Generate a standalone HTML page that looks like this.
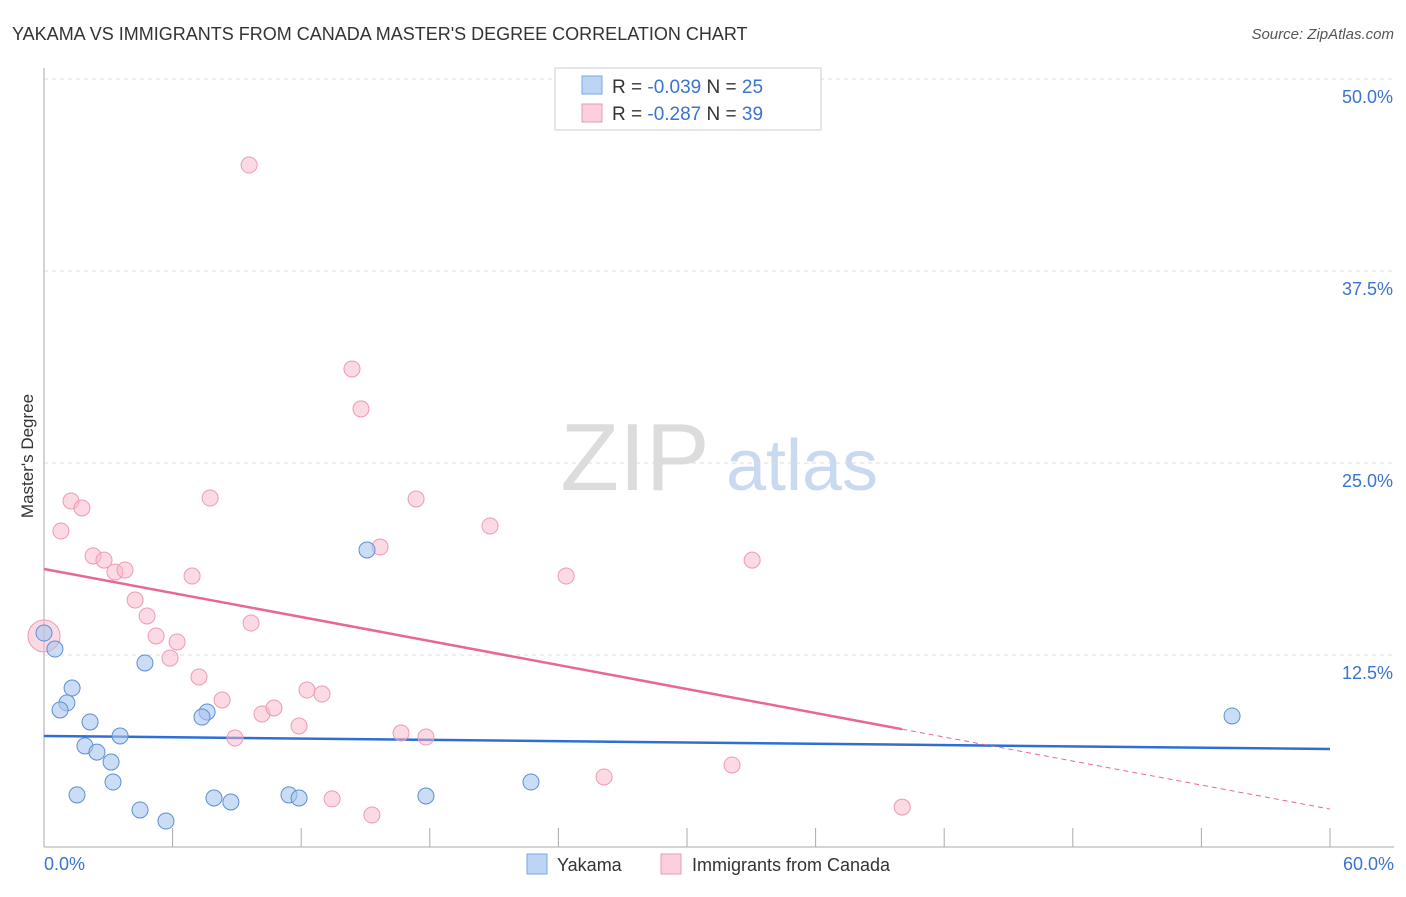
<!DOCTYPE html>
<html><head><meta charset="utf-8"><style>
body{margin:0;background:#fff;font-family:"Liberation Sans",sans-serif;}
svg text{font-family:"Liberation Sans",sans-serif;}
</style></head><body>
<svg id="chart" width="1406" height="892" viewBox="0 0 1406 892" xmlns="http://www.w3.org/2000/svg">
<text x="12" y="40" font-size="18" fill="#333">YAKAMA VS IMMIGRANTS FROM CANADA MASTER'S DEGREE CORRELATION CHART</text>
<text x="1394" y="39" font-size="15" fill="#555" text-anchor="end" font-style="italic">Source: ZipAtlas.com</text>
<g>
<text x="635" y="490" font-size="96" fill="#dcdcdc" font-family="Liberation Serif,serif" text-anchor="middle">ZIP</text>
<text x="802" y="490" font-size="72" fill="#c9daf0" text-anchor="middle">atlas</text>
</g>
<g id="grid"></g>
<g id="axes"></g>
<g id="lines"></g>
<g id="pts"></g>
<text transform="translate(33,456) rotate(-90)" font-size="17" fill="#333" text-anchor="middle">Master's Degree</text>
<g>
<rect x="555" y="68" width="266" height="62" fill="#fff" stroke="#ccc"/>
<rect x="582" y="76" width="20" height="18" fill="#bcd5f5" stroke="#7aa6e0"/>
<rect x="582" y="104" width="20" height="18" fill="#fbcfdc" stroke="#ee9ab5"/>
<text x="612" y="93" font-size="19" fill="#333">R = <tspan fill="#3a73d0">-0.039</tspan>   N = <tspan fill="#3a73d0">25</tspan></text>
<text x="612" y="120" font-size="19" fill="#333">R = <tspan fill="#3a73d0"> -0.287</tspan>   N = <tspan fill="#3a73d0">39</tspan></text>
</g>
<g>
<rect x="527" y="854" width="20" height="20" fill="#bcd5f5" stroke="#7aa6e0"/>
<text x="557" y="871" font-size="18" fill="#333">Yakama</text>
<rect x="661" y="854" width="20" height="20" fill="#fbcfdc" stroke="#ee9ab5"/>
<text x="692" y="871" font-size="18" fill="#333">Immigrants from Canada</text>
</g>
</svg>
<script>
const yTicks=[12.5,25,37.5,50];
const yTickLabels=["12.5%","25.0%","37.5%","50.0%"];
const xTickLabels=["0.0%","60.0%"];
const yakX=[0,0.51,1.31,1.07,0.75,2.15,3.55,1.91,2.47,3.13,3.22,1.54,4.48,5.69,4.71,7.61,7.37,7.93,8.72,11.43,11.90,15.07,17.82,22.72,55.43];
const yakY=[13.93,12.89,10.35,9.38,8.92,8.14,7.23,6.58,6.18,5.53,4.23,3.39,2.41,1.69,11.98,8.79,8.46,3.19,2.93,3.39,3.19,19.34,3.32,4.23,8.53];
const canX=[0,0.79,1.26,1.77,2.29,2.80,3.31,3.78,4.25,4.81,5.23,5.88,6.21,6.91,7.23,7.75,8.31,8.91,9.66,10.17,10.73,11.90,12.27,12.97,13.44,14.37,14.79,15.30,15.68,16.66,17.36,17.82,20.81,24.36,26.13,32.10,33.04,40.04,9.57];
const canY=[13.74,20.57,22.53,22.07,18.95,18.68,17.90,18.03,16.08,15.04,13.74,12.30,13.35,17.64,11.07,22.72,9.57,7.10,14.58,8.66,9.05,7.88,10.22,9.96,3.13,31.12,28.52,2.08,19.53,7.42,22.66,7.16,20.90,17.64,4.56,5.34,18.68,2.60,44.40];
const yakTrend=[7.23,6.38];
const canTrend=[18.10,2.47];
const canSolidEnd=40.04;
const X=v=>44+v/60*1286, Y=v=>847-v/12.5*192;
const NS="http://www.w3.org/2000/svg";
function mk(p,t,a){const e=document.createElementNS(NS,t);for(const k in a)e.setAttribute(k,a[k]);p.appendChild(e);return e;}
const grid=document.getElementById('grid'),axes=document.getElementById('axes'),lines=document.getElementById('lines'),pts=document.getElementById('pts');
yTicks.forEach((t,i)=>{
 const l=mk(grid,'line',{x1:44,x2:1394,y1:Y(t),y2:Y(t),stroke:'#ddd','stroke-dasharray':'4 4'});
 
 
 const tx=mk(axes,'text',{x:1393,y:Y(t)+24,'font-size':18,fill:'#3a73d0','text-anchor':'end'});
 tx.textContent=yTickLabels[i];
 
 
});
mk(axes,'line',{x1:44,x2:44,y1:68,y2:847,stroke:'#aaa'});
mk(axes,'line',{x1:44,x2:1394,y1:847,y2:847,stroke:'#aaa'});
for(let i=0;i<=10;i++){const t=mk(axes,'line',{x1:X(i*6),x2:X(i*6),y1:828,y2:847,stroke:'#aaa'});
 
 }
[[0,'start',44],[60,'end',1394]].forEach((d,i)=>{const tx=mk(axes,'text',{x:d[2],y:870,'font-size':18,fill:'#3a73d0','text-anchor':d[1]});tx.textContent=xTickLabels[i];
 
 });
canX.forEach((x,i)=>{const r=(i===0)?16:8;const c=mk(pts,'circle',{cx:X(x),cy:Y(canY[i]),r:r,fill:'#f7b6c9','fill-opacity':0.5,stroke:'#ee9ab5','stroke-width':1});
 
 });
yakX.forEach((x,i)=>{const c=mk(pts,'circle',{cx:X(x),cy:Y(yakY[i]),r:8,fill:'#a9c7ef','fill-opacity':0.6,stroke:'#5b8fd6','stroke-width':1});
 
 });
const cy=v=>canTrend[0]+(canTrend[1]-canTrend[0])*v/60;
const l1=mk(lines,'line',{x1:X(0),y1:Y(yakTrend[0]),x2:X(60),y2:Y(yakTrend[1]),stroke:'#2f6fd4','stroke-width':2.5});


const l2=mk(lines,'line',{x1:X(0),y1:Y(cy(0)),x2:X(canSolidEnd),y2:Y(cy(canSolidEnd)),stroke:'#e8688f','stroke-width':2.5});


const l3=mk(lines,'line',{x1:X(canSolidEnd),y1:Y(cy(canSolidEnd)),x2:X(60),y2:Y(cy(60)),stroke:'#e8688f','stroke-width':1,'stroke-dasharray':'5 4'});


</script>
</body></html>
